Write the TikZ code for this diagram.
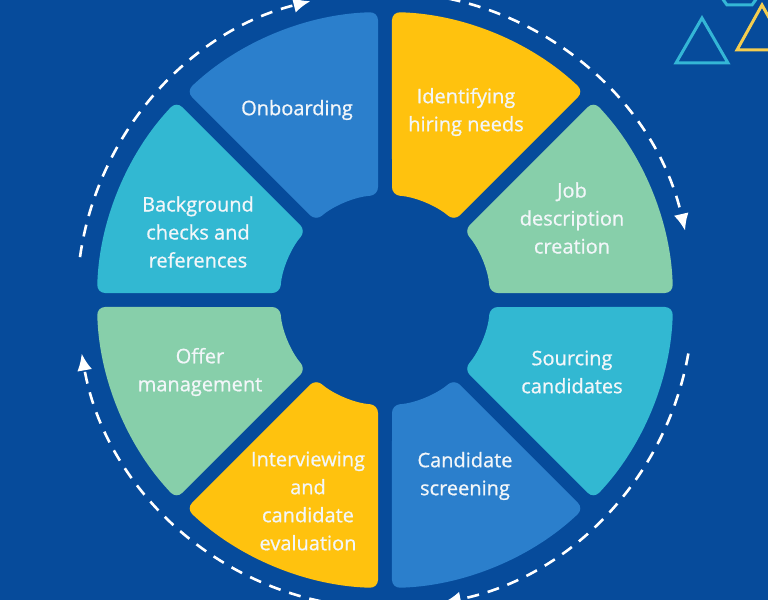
\documentclass[tikz,border=0pt]{standalone}
\usepackage{fontspec}
\setmainfont{Open Sans}
\newfontfamily\chuvong{Open Sans}[UprightFeatures={FakeBold=0.8}]
\usepackage{xcolor}
\usepackage{tikz}
\usetikzlibrary{calc, arrows.meta}

\definecolor{nenxanh}{HTML}{064B9B}
\definecolor{manhxanh}{HTML}{2B7FCC}
\definecolor{manhvang}{HTML}{FFC20E}
\definecolor{manhla}{HTML}{87CFAA}
\definecolor{manhcyan}{HTML}{32B8D2}
\definecolor{chu}{HTML}{F2F6F9}
\definecolor{tgvang}{HTML}{F4CD4F}
\definecolor{tgcyan}{HTML}{34B6D6}

\begin{document}
\begin{tikzpicture}[>={Latex[length=17pt,width=15pt]}, x=1pt, y=1pt,
    nhan/.style={text=chu, align=center, font=\chuvong\fontsize{20}{28}\selectfont},
    vong/.style={white, line width=2.6pt, dash pattern=on 12pt off 9pt, ->},
    tamgiac/.style={line width=3pt}]
    % Nền
    \fill[nenxanh] (-385,-300) rectangle (383,300);
    \useasboundingbox (-385,-300) rectangle (383,300);

    % Các mảnh của vòng tròn
    \foreach \a/\mau in {0/manhla, 45/manhvang, 90/manhxanh, 135/manhcyan,
                         180/manhla, 225/manhvang, 270/manhxanh, 315/manhcyan}
        \fill[\mau, rounded corners=8pt]
            (\a+1.393:288) arc[start angle=\a+1.393, end angle=\a+43.607, radius=288]
            -- (\a+41.177:105) arc[start angle=\a+41.177, end angle=\a+3.823, radius=105]
            -- cycle;

    % Các bước
    \node[nhan] (hiring) at (81,188) {Identifying\\hiring needs};
    \node[nhan] (jobdesc) at (187,82) {Job\\description\\creation};
    \node[nhan] (sourcing) at (187,-72) {Sourcing\\candidates};
    \node[nhan] (screening) at (80,-176) {Candidate\\screening};
    \node[nhan] (interview) at (-77,-201) {Interviewing\\and\\candidate\\evaluation};
    \node[nhan] (offer) at (-185,-72) {Offer\\management};
    \node[nhan] (background) at (-187,68) {Background\\checks and\\references};
    \node[nhan] (onboarding) at (-88,190) {Onboarding};

    % Mũi tên nét đứt bên ngoài
    \draw[vong] (172:308) arc[start angle=172, end angle=104, radius=308];
    \draw[vong] (82:308) arc[start angle=82, end angle=13, radius=308];
    \draw[vong] (-10:308) arc[start angle=-10, end angle=-79, radius=308];
    \draw[vong] (-102:308) arc[start angle=-102, end angle=-170, radius=308];

    % Tam giác trang trí
    \draw[tamgiac, tgcyan] (317,282) -- (291,237) -- (343,237) -- cycle;
    \draw[tamgiac, tgvang] (377,295) -- (352,250) -- (402,250) -- cycle;
    \draw[tamgiac, tgcyan] (337,302) -- (342,295) -- (367,295) -- (372,302);
\end{tikzpicture}
\end{document}
